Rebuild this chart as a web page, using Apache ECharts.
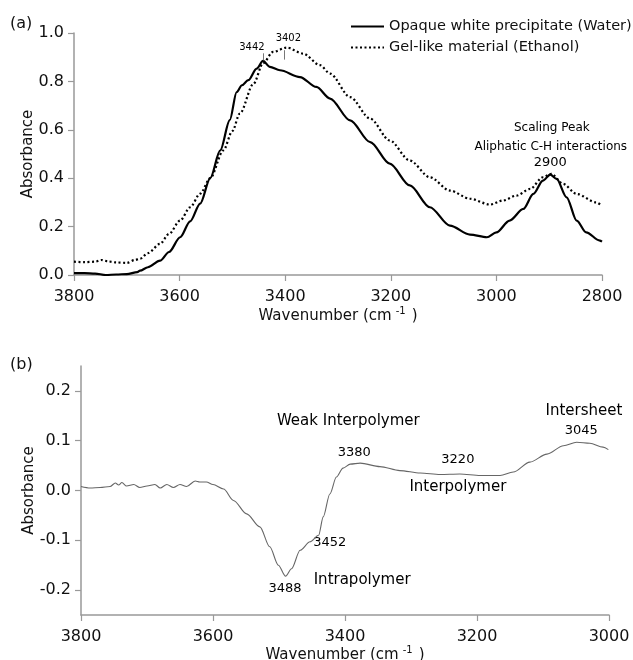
<!DOCTYPE html>
<html>
<head>
<meta charset="utf-8">
<script src="https://cdn.jsdelivr.net/npm/echarts@6/dist/echarts.min.js"></script>
<style>html,body{margin:0;padding:0;background:#fff}#c{width:633px;height:660px}</style>
</head>
<body>
<div id="c"></div>
<script>
// ---- Panel (a) data ----
const waterW = [3800,3780,3760,3740,3720,3700,3680,3675,3660,3637,3620,3599,3580,3561,3542,3523,3505,3492,3482,3470,3454,3442,3429,3410,3372,3341,3315,3277,3239,3202,3164,3126,3088,3050,3018,3000,2975,2949,2930,2912,2898,2886,2867,2848,2830,2804,2800];
const waterA = [0.008,0.008,0.006,0.0,0.002,0.004,0.012,0.018,0.032,0.059,0.095,0.156,0.222,0.295,0.40,0.515,0.64,0.756,0.784,0.805,0.853,0.885,0.86,0.846,0.818,0.777,0.729,0.639,0.549,0.46,0.37,0.28,0.204,0.167,0.156,0.176,0.225,0.273,0.335,0.39,0.415,0.397,0.321,0.225,0.176,0.142,0.138];
const ethW = [3800,3780,3760,3748,3735,3720,3700,3685,3675,3660,3637,3620,3599,3580,3561,3542,3517,3500,3486,3460,3442,3423,3397,3366,3334,3315,3277,3239,3202,3164,3126,3088,3050,3012,2987,2962,2936,2912,2896,2874,2848,2811,2800];
const ethA = [0.055,0.053,0.055,0.062,0.056,0.052,0.05,0.062,0.067,0.09,0.129,0.17,0.225,0.28,0.336,0.40,0.515,0.595,0.667,0.79,0.875,0.922,0.94,0.915,0.867,0.832,0.735,0.646,0.556,0.473,0.404,0.349,0.315,0.291,0.308,0.328,0.356,0.404,0.418,0.377,0.335,0.30,0.285];
const seriesNames = ['Opaque white precipitate (Water)','Gel-like material (Ethanol)'];
const peakMarks = [[3442,0.887,0.916],[3402,0.89,0.929]];
const topNoteText = ['3442','3402','Scaling Peak','Aliphatic C-H interactions','2900'];
const topNoteW = [3463,3394,2895,2897,2898];
const topNoteA = [0.94,0.979,0.607,0.529,0.463];

// ---- Panel (b) data ----
const diffW = [3800,3786,3771,3756,3748,3743,3738,3731,3720,3711,3700,3688,3680,3670,3660,3650,3640,3627,3620,3610,3600,3584,3569,3549,3529,3514,3501,3490,3481,3468,3453,3440,3433,3423,3413,3403,3392,3377,3347,3317,3286,3256,3226,3195,3165,3145,3120,3094,3069,3049,3029,3009,3001];
const diffA = [0.008,0.005,0.006,0.008,0.015,0.011,0.016,0.009,0.012,0.006,0.009,0.012,0.005,0.012,0.006,0.012,0.008,0.019,0.017,0.017,0.012,0.003,-0.02,-0.047,-0.073,-0.113,-0.15,-0.172,-0.157,-0.12,-0.103,-0.09,-0.053,-0.007,0.027,0.045,0.053,0.055,0.048,0.04,0.035,0.032,0.033,0.03,0.03,0.037,0.057,0.073,0.09,0.097,0.095,0.087,0.082];
const botTicksY = [-0.2,-0.1,0.0,0.1,0.2];
const botNoteText = ['Weak Interpolymer','3380','3220','Interpolymer','Intersheet','3045','3452','3488','Intrapolymer'];
const botNoteW = [3395,3386,3229,3229,3038,3042,3423,3491,3374];
const botNoteA = [0.139,0.077,0.061,0.006,0.16,0.12,-0.104,-0.198,-0.18];

const FONT = 'DejaVu Sans';
const topNoteSize = [10,10,12,12,13];
const botNoteSize = [15,13,13,15,15,13,13,13,15];

function zip(w, a){ return w.map((x,i)=>[x,a[i]]); }
function notes(text, w, a, sizes){
  return text.map((t,i)=>({value:[w[i],a[i]], label:{show:true, position:'inside', formatter:t, fontSize:sizes[i], color:'#000', textBorderWidth:0, fontFamily:FONT}}));
}

const axisCol = '#999';
function xAx(grid, min, gap){
  return {type:'value', gridIndex:grid, inverse:true, min:min, max:3800, interval:200,
    axisLine:{show:true, onZero:false, lineStyle:{color:axisCol, width:1.5}},
    axisTick:{show:true, length:6, lineStyle:{color:axisCol, width:1.2}},
    axisLabel:{color:'#111', fontSize:16, margin:14, fontFamily:FONT, formatter:v=>String(v)},
    splitLine:{show:false},
    name:'Wavenumber (cm{sup|-1})', nameLocation:'middle', nameGap:gap, nameMoveOverlap:false,
    nameTextStyle:{color:'#111', fontSize:15, fontFamily:FONT, lineHeight:20,
      rich:{sup:{fontSize:10, fontFamily:FONT, color:'#111', verticalAlign:'top', lineHeight:10, padding:[0,6,0,4]}}}
  };
}
function yAx(grid, extra){
  return Object.assign({type:'value', gridIndex:grid,
    axisLine:{show:true, onZero:false, lineStyle:{color:axisCol, width:1.5}},
    axisTick:{show:true, length:6, lineStyle:{color:axisCol, width:1.2}},
    splitLine:{show:false},
    name:'Absorbance', nameLocation:'middle', nameRotate:90, nameMoveOverlap:false,
    nameTextStyle:{color:'#111', fontSize:15, fontFamily:FONT}
  }, extra);
}

const chart = echarts.init(document.getElementById('c'), null, {renderer:'canvas'});
chart.setOption({
  animation:false,
  backgroundColor:'#fff',
  grid:[
    {left:74, top:33, width:528, height:242, outerBoundsMode:'none', containLabel:false},
    {left:81, top:366, width:528, height:249, outerBoundsMode:'none', containLabel:false}
  ],
  xAxis:[xAx(0,2800,31), xAx(1,3000,30)],
  yAxis:[
    yAx(0,{min:0, max:1, interval:0.2, nameGap:38,
      axisLabel:{color:'#111', fontSize:16, margin:10, fontFamily:FONT, formatter:v=>v.toFixed(1)}}),
    yAx(1,{min:-0.25, max:0.25, nameGap:44,
      axisTick:{show:true, length:6, lineStyle:{color:axisCol, width:1.2}, customValues:botTicksY},
      axisLabel:{color:'#111', fontSize:16, margin:10, fontFamily:FONT, customValues:botTicksY, formatter:v=>v.toFixed(1)}})
  ],
  legend:{orient:'vertical', left:345, top:14, itemWidth:33, itemHeight:12, itemGap:6,
    itemStyle:{opacity:0, borderWidth:0},
    textStyle:{color:'#111', fontSize:14.5, fontFamily:FONT}, data:seriesNames},
  graphic:[
    {type:'text', left:10, top:16, style:{text:'(a)', fontSize:16, fontFamily:FONT, fill:'#111'}},
    {type:'text', left:10, top:357, style:{text:'(b)', fontSize:16, fontFamily:FONT, fill:'#111'}}
  ],
  series:[
    {name:seriesNames[0], type:'line', xAxisIndex:0, yAxisIndex:0, data:zip(waterW,waterA),
     showSymbol:false, symbol:'none', smooth:0.3, smoothMonotone:'x',
     lineStyle:{color:'#000', width:2.2, type:'solid'}, itemStyle:{color:'#000'},
     markLine:{silent:true, symbol:'none', label:{show:false}, lineStyle:{color:'#777', width:1, type:'solid'},
       data: peakMarks.map(p=>[{coord:[p[0],p[1]]},{coord:[p[0],p[2]]}])}},
    {name:seriesNames[1], type:'line', xAxisIndex:0, yAxisIndex:0, data:zip(ethW,ethA),
     showSymbol:false, symbol:'none', smooth:0.3, smoothMonotone:'x',
     lineStyle:{color:'#000', width:2.2, type:[2,2.5]}, itemStyle:{color:'#000'}},
    {name:'notesA', type:'scatter', xAxisIndex:0, yAxisIndex:0, symbolSize:0, silent:true,
     itemStyle:{opacity:1}, data:notes(topNoteText, topNoteW, topNoteA, topNoteSize)},
    {name:'diff', type:'line', xAxisIndex:1, yAxisIndex:1, data:zip(diffW,diffA),
     showSymbol:false, symbol:'none', smooth:0.3, smoothMonotone:'x',
     lineStyle:{color:'#666', width:1.1}},
    {name:'notesB', type:'scatter', xAxisIndex:1, yAxisIndex:1, symbolSize:0, silent:true,
     itemStyle:{opacity:1}, data:notes(botNoteText, botNoteW, botNoteA, botNoteSize)}
  ]
});
</script>
</body>
</html>
